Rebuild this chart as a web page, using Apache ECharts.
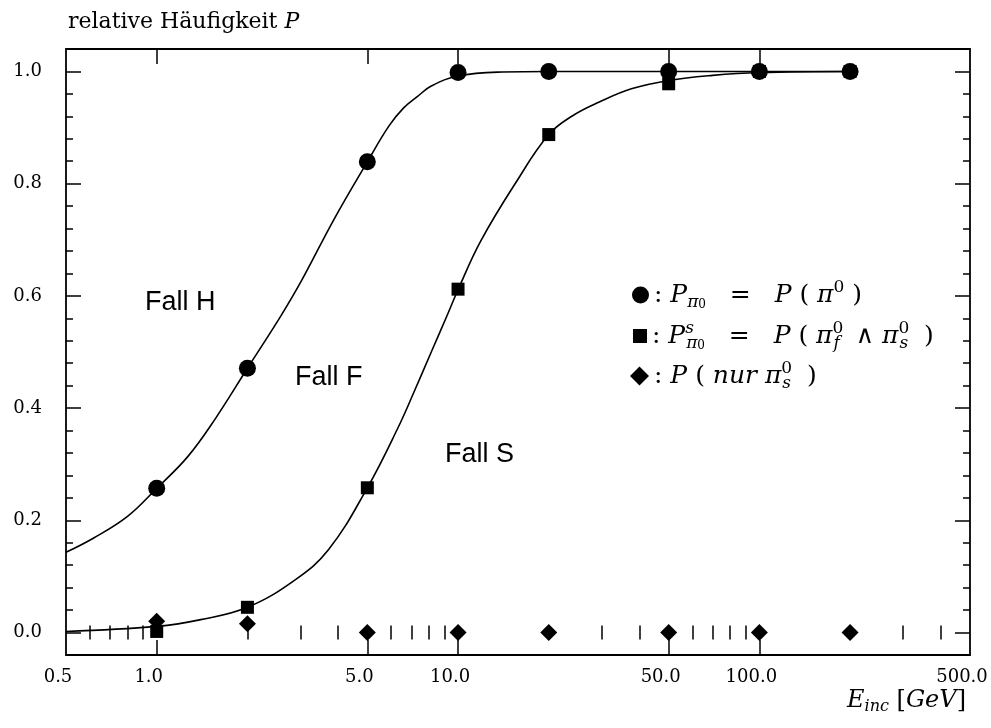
<!DOCTYPE html>
<html>
<head>
<meta charset="utf-8">
<title>relative Häufigkeit</title>
<script src="https://cdn.jsdelivr.net/npm/echarts@6/dist/echarts.min.js"></script>
<style>
  html, body { margin: 0; padding: 0; background: #fff; }
  #chart { width: 991px; height: 728px; }
</style>
</head>
<body>
<div id="chart"></div>
<script>
// Measured probabilities vs. incident energy (GeV)
const energies = [1, 2, 5, 10, 20, 50, 100, 200];
const pPi0     = [0.257, 0.471, 0.839, 0.998, 1.0, 1.0, 1.0, 1.0];
const pPi0s    = [0.002, 0.045, 0.258, 0.612, 0.8875, 0.978, 1.0, 1.0];
const pNurS    = [0.020, 0.0155, 0.0, 0.0, 0.0, 0.0, 0.0, 0.0];

// Fitted curves
const curveHx = [0.5, 0.62, 0.8, 1.0, 1.27, 1.56, 2.0, 2.58, 3.03, 3.88, 5.0, 5.9, 6.6, 7.36, 8.15, 10, 14, 20, 50, 100, 200];
const curveHy = [0.143, 0.169, 0.207, 0.257, 0.314, 0.380, 0.471, 0.564, 0.628, 0.737, 0.839, 0.903, 0.935, 0.956, 0.974, 0.992, 0.999, 1.0, 1.0, 1.0, 1.0];
const curveSx = [0.5, 1.0, 1.4, 2.0, 2.88, 3.72, 5.0, 6.32, 7.16, 8.15, 9.13, 10, 11.9, 15.6, 20, 24, 29.3, 37.6, 50, 70, 100, 200];
const curveSy = [0.002, 0.011, 0.023, 0.045, 0.094, 0.148, 0.258, 0.365, 0.430, 0.500, 0.561, 0.611, 0.698, 0.803, 0.8875, 0.921, 0.945, 0.969, 0.984, 0.993, 0.998, 1.0];

// Axis ticks and labels
const xLabels     = [0.5, 1, 5, 10, 50, 100, 500];
const xMajorTicks = [1, 5, 10, 50, 100];
const xMinorTicks = [0.6, 0.7, 0.8, 0.9, 2, 3, 4, 6, 7, 8, 9, 20, 30, 40, 60, 70, 80, 90, 200, 300, 400];
const yLabels     = [0, 0.2, 0.4, 0.6, 0.8, 1.0];
const yMajorTicks = [0, 0.2, 0.4, 0.6, 0.8, 1.0];
const yMinorTicks = [0.04, 0.08, 0.12, 0.16, 0.24, 0.28, 0.32, 0.36, 0.44, 0.48, 0.52, 0.56,
                     0.64, 0.68, 0.72, 0.76, 0.84, 0.88, 0.92, 0.96];

const caseLabels = ['Fall H', 'Fall F', 'Fall S'];
const seriesNames = ['P_pi0', 'P_pi0_s', 'P_nur_pi0_s'];

const SERIF = 'DejaVu Serif';
const INK = '#000';

function zip(xs, ys) { return xs.map((x, i) => [x, ys[i]]); }

function xAxisDef(pos, ticks, len, opts) {
  return Object.assign({
    type: 'log', logBase: 10, min: 0.5, max: 500, position: pos, gridIndex: 0,
    axisLine: { show: false },
    axisTick: { show: true, inside: true, length: len, customValues: ticks, lineStyle: { color: INK, width: 1.5 } },
    axisLabel: { show: false },
    splitLine: { show: false }, minorTick: { show: false }, minorSplitLine: { show: false }
  }, opts || {});
}
function yAxisDef(pos, ticks, len, opts) {
  return Object.assign({
    type: 'value', min: -0.04, max: 1.04, position: pos, gridIndex: 0,
    axisLine: { show: false },
    axisTick: { show: true, inside: true, length: len, customValues: ticks, lineStyle: { color: INK, width: 1.5 } },
    axisLabel: { show: false },
    splitLine: { show: false }
  }, opts || {});
}

const frameLine = { show: true, onZero: false, lineStyle: { color: INK, width: 1.8 } };

const legendRich = {
  t:    { fontFamily: SERIF, fontSize: 25, lineHeight: 32, color: INK },
  i:    { fontFamily: SERIF, fontSize: 25, lineHeight: 32, color: INK, fontStyle: 'italic' },
  sbi:  { fontFamily: SERIF, fontSize: 17, lineHeight: 16, color: INK, fontStyle: 'italic', verticalAlign: 'bottom' },
  sb0:  { fontFamily: SERIF, fontSize: 12, lineHeight: 22, color: INK, verticalAlign: 'bottom' },
  sp:   { fontFamily: SERIF, fontSize: 17, lineHeight: 18, color: INK, verticalAlign: 'top' },
  spz:  { fontFamily: SERIF, fontSize: 17, lineHeight: 18, color: INK, verticalAlign: 'top', width: 1 },
  spzi: { fontFamily: SERIF, fontSize: 17, lineHeight: 18, color: INK, verticalAlign: 'top', width: 1, fontStyle: 'italic' }
};
const legendText = {
  P_pi0:       '{t|: }{i|P}{sbi|π}{sb0|0}{t|   =   }{i|P}{t| ( }{i|π}{sp|0}{t| )}',
  P_pi0_s:     '{t|: }{i|P}{spzi|s}{sbi|π}{sb0|0}{t|   =   }{i|P}{t| ( }{i|π}{spz|0}{sbi|f}{t|  ∧ }{i|π}{spz|0}{sbi|s}{t|  )}',
  P_nur_pi0_s: '{t|: }{i|P}{t| ( }{i|nur}{t| }{i|π}{spz|0}{sbi|s}{t|  )}'
};
function legendFor(name, left, top, w, h) {
  return {
    data: [name], orient: 'vertical', left: left, top: top,
    itemWidth: w, itemHeight: h, itemGap: 0, padding: 0, selectedMode: false,
    itemStyle: { opacity: 1 },
    formatter: n => legendText[n],
    textStyle: { rich: legendRich }
  };
}

const chart = echarts.init(document.getElementById('chart'), null, { renderer: 'canvas' });

chart.setOption({
  backgroundColor: '#fff',
  animation: false,
  title: {
    text: '{r|relative Häufigkeit }{i|P}',
    left: 68, top: 11, padding: 0,
    textStyle: {
      fontWeight: 'normal',
      rich: {
        r: { fontFamily: SERIF, fontSize: 22, fontWeight: 'normal', color: INK },
        i: { fontFamily: SERIF, fontSize: 22, fontWeight: 'normal', color: INK, fontStyle: 'italic' }
      }
    }
  },
  grid: { left: 66, right: 21, top: 49, bottom: 73, containLabel: false },
  xAxis: [
    xAxisDef('bottom', xMajorTicks, 15, {
      axisLine: frameLine,
      axisLabel: {
        show: true, customValues: xLabels, margin: 13, padding: [0, 16, 0, 0],
        fontFamily: SERIF, fontSize: 18, color: INK,
        formatter: v => Number(v).toFixed(1)
      },
      name: '{i|E}{s|inc}{t| [}{i|GeV}{t|]}',
      nameLocation: 'end', nameGap: -4,
      nameTextStyle: {
        align: 'right', verticalAlign: 'top', padding: [31, 0, 0, 0],
        rich: {
          i: { fontFamily: SERIF, fontSize: 24, fontStyle: 'italic', color: INK, lineHeight: 29 },
          t: { fontFamily: SERIF, fontSize: 24, color: INK, lineHeight: 29 },
          s: { fontFamily: SERIF, fontSize: 16, fontStyle: 'italic', color: INK, lineHeight: 15, verticalAlign: 'bottom' }
        }
      }
    }),
    xAxisDef('bottom', xMinorTicks, 7),
    xAxisDef('top', xMajorTicks, 15, { axisLine: frameLine }),
    xAxisDef('top', xMinorTicks, 7)
  ],
  yAxis: [
    yAxisDef('left', yMajorTicks, 15, {
      axisLine: frameLine,
      axisLabel: {
        show: true, customValues: yLabels, margin: 24,
        fontFamily: SERIF, fontSize: 18, color: INK,
        formatter: v => Number(v).toFixed(1)
      }
    }),
    yAxisDef('left', yMinorTicks, 7),
    yAxisDef('right', yMajorTicks, 15, { axisLine: frameLine }),
    yAxisDef('right', yMinorTicks, 7)
  ],
  legend: [
    legendFor('P_pi0', 632, 279, 17, 17),
    legendFor('P_pi0_s', 633, 320, 14, 14),
    legendFor('P_nur_pi0_s', 630, 360, 19, 19)
  ],
  graphic: [
    { type: 'text', left: 145, top: 289, silent: true,
      style: { text: caseLabels[0], font: '27px "Liberation Sans"', fill: INK } },
    { type: 'text', left: 295, top: 364, silent: true,
      style: { text: caseLabels[1], font: '27px "Liberation Sans"', fill: INK } },
    { type: 'text', left: 445, top: 441, silent: true,
      style: { text: caseLabels[2], font: '27px "Liberation Sans"', fill: INK } }
  ],
  series: [
    {
      name: 'fit_H', type: 'line', data: zip(curveHx, curveHy),
      smooth: 0.4, showSymbol: false, silent: true, z: 2,
      lineStyle: { color: INK, width: 1.6 }
    },
    {
      name: 'fit_S', type: 'line', data: zip(curveSx, curveSy),
      smooth: 0.4, showSymbol: false, silent: true, z: 2,
      lineStyle: { color: INK, width: 1.6 }
    },
    {
      name: seriesNames[1], type: 'scatter', data: zip(energies, pPi0s),
      symbol: 'rect', symbolSize: 13, itemStyle: { color: INK, opacity: 1 }, z: 3
    },
    {
      name: seriesNames[0], type: 'scatter', data: zip(energies, pPi0),
      symbol: 'circle', symbolSize: 17, itemStyle: { color: INK, opacity: 1 }, z: 4
    },
    {
      name: seriesNames[2], type: 'scatter', data: zip(energies, pNurS),
      symbol: 'diamond', symbolSize: 17, itemStyle: { color: INK, opacity: 1 }, z: 5
    }
  ]
});
</script>
</body>
</html>
